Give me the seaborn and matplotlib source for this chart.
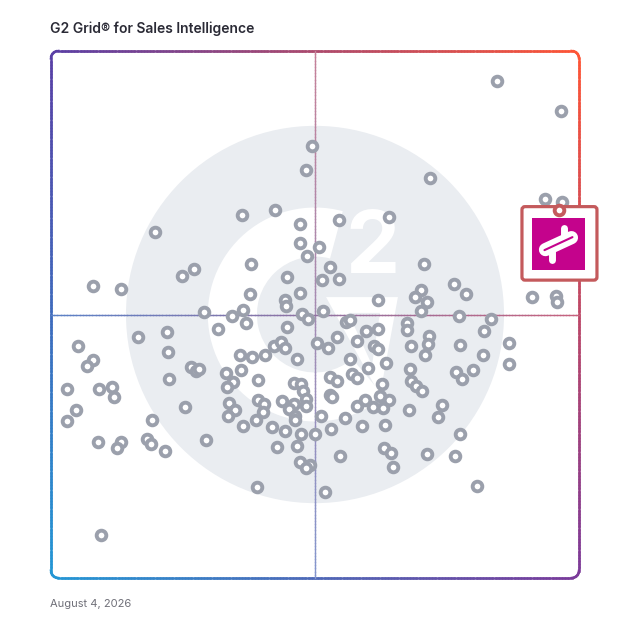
import numpy as np
import pandas as pd
import matplotlib
matplotlib.use("Agg")
import matplotlib.pyplot as plt
import seaborn as sns
from matplotlib.collections import LineCollection
from matplotlib.patches import Circle, Wedge, Polygon, FancyBboxPatch, Rectangle

# ---------------- data (0-100 scores) ----------------
satisfaction = [
    84.5, 96.6, 49.4, 48.3, 71.8, 93.6, 96.8, 19.7, 36.2, 42.4, 47.2, 54.5, 64.0, 47.2, 50.8, 48.5,
    70.6, 52.8, 37.9, 27.1, 24.8, 44.7, 51.3, 54.5, 76.3, 78.6, 70.1, 68.9, 71.2, 61.9, 8.0, 13.3,
    37.7, 47.2, 44.3, 44.5, 29.0, 36.4, 34.3, 47.5, 48.7, 36.9, 51.5, 70.1, 77.3, 55.9, 56.6, 67.4,
    67.4, 83.3, 82.0, 91.1, 95.6, 95.8, 31.6, 44.7, 59.7, 61.9, 5.1, 16.5, 22.0, 22.2, 50.4, 52.5,
    54.2, 58.0, 61.2, 61.9, 68.2, 71.6, 71.4, 70.8, 77.5, 81.8, 86.7, 86.7, 8.0, 6.8, 26.5, 27.5,
    28.0, 35.8, 38.1, 40.5, 42.2, 43.6, 44.3, 46.6, 33.1, 36.0, 22.3, 3.0, 9.1, 11.6, 11.9, 34.5,
    33.3, 39.2, 46.0, 47.4, 47.7, 48.3, 48.3, 46.0, 43.8, 45.1, 46.2, 46.2, 39.2, 40.3, 40.2, 33.7,
    34.8, 33.5, 25.4, 4.7, 3.0, 19.1, 38.8, 36.4, 41.9, 44.3, 47.4, 50.0, 51.1, 8.9, 13.3, 12.5,
    18.2, 18.9, 21.6, 29.4, 42.8, 46.6, 47.2, 49.1, 48.3, 39.0, 51.9, 9.5, 56.6, 63.4, 60.0, 68.0,
    76.7, 77.8, 79.9, 52.8, 54.2, 57.0, 58.0, 62.7, 68.2, 69.1, 70.3, 52.8, 53.2, 62.3, 64.0, 59.5,
    58.0, 61.0, 62.9, 67.8, 74.1, 73.3, 55.7, 53.0, 58.9, 63.3, 77.5, 54.7, 63.1, 64.4, 64.8, 71.2,
    76.5, 80.7,
]
market_presence = [
    94.3, 88.6, 82.0, 77.4, 75.9, 71.9, 71.4, 65.7, 68.9, 69.8, 67.2, 67.9, 68.5, 63.6, 62.8, 61.1,
    59.6, 59.0, 59.6, 58.6, 57.3, 57.1, 56.6, 56.8, 55.8, 53.9, 54.7, 53.3, 52.4, 52.8, 55.4, 54.9,
    53.9, 54.1, 52.8, 51.6, 50.5, 50.9, 49.7, 50.1, 49.2, 48.4, 50.7, 50.7, 49.7, 48.6, 49.0, 48.4,
    47.1, 49.2, 46.9, 53.3, 53.5, 52.4, 47.3, 47.6, 46.9, 47.3, 44.0, 45.7, 46.7, 42.9, 44.6, 43.7,
    45.7, 45.0, 44.0, 43.5, 44.0, 45.9, 44.4, 42.3, 44.2, 42.3, 44.6, 40.6, 41.4, 40.2, 40.0, 39.3,
    39.7, 42.3, 41.9, 42.3, 44.0, 44.8, 43.7, 41.6, 38.9, 39.5, 37.8, 35.9, 35.9, 36.3, 34.4, 37.2,
    36.3, 37.6, 37.0, 36.8, 35.5, 34.0, 32.6, 33.0, 33.6, 32.1, 30.7, 30.0, 33.8, 33.0, 31.5, 33.2,
    31.9, 30.7, 32.5, 31.9, 29.8, 30.0, 30.0, 28.8, 28.7, 27.9, 27.3, 27.3, 30.7, 25.8, 25.8, 24.7,
    26.4, 25.4, 24.1, 26.2, 24.9, 25.1, 22.0, 21.4, 20.9, 17.3, 16.3, 8.2, 41.6, 40.8, 39.9, 39.7,
    39.1, 37.8, 39.5, 38.1, 37.4, 38.7, 38.0, 36.8, 37.4, 36.4, 35.5, 34.7, 34.4, 34.5, 33.8, 33.8,
    32.6, 32.5, 32.3, 31.9, 32.8, 30.6, 30.4, 28.3, 28.8, 29.0, 27.3, 23.2, 24.7, 23.7, 21.1, 23.5,
    23.2, 17.5,
]
vendor_satisfaction = [96.3]
vendor_presence = [69.9]

title = "G2 Grid® for Sales Intelligence"
date_label = "August 4, 2026"

# ---------------- figure ----------------
sns.set_style("white")
plt.rcParams["font.family"] = ["Inter", "DejaVu Sans"]

W = H = 628
fig = plt.figure(figsize=(W / 100, H / 100), dpi=100)
ax = fig.add_axes([51 / W, 50 / H, 528 / W, 527 / H])
ax.set_xlim(0, 100)
ax.set_ylim(0, 100)
ax.axis("off")

GRAY_BG = "#EAEDF1"
# watermark (G2 logo shape)
ax.add_patch(Circle((50, 50), 35.8, color=GRAY_BG, lw=0, zorder=0))
ax.add_patch(Wedge((50, 50), 20.3, 75, 310, width=9.3, color="white", lw=0, zorder=1))
ax.add_patch(Polygon([(52.1, 53.3), (65.7, 53.3), (62.3, 34.7)], closed=True,
                     color="white", lw=0, zorder=1))
ax.add_patch(Polygon([(56.3, 50.3), (62.3, 50.3), (60.8, 40.4)], closed=True,
                     color=GRAY_BG, lw=0, zorder=1))
ax.text(60.8, 62.2, "2", ha="center", va="center", fontsize=62, fontweight="bold",
        color="white", zorder=1)

# gradient colours
TL = np.array([90, 63, 165]) / 255
TR = np.array([255, 85, 53]) / 255
BL = np.array([35, 151, 213]) / 255
BR = np.array([122, 58, 154]) / 255


def grad(u, v):
    return ((1 - u) * (1 - v))[:, None] * BL + (u * (1 - v))[:, None] * BR + \
           ((1 - u) * v)[:, None] * TL + (u * v)[:, None] * TR


def densify(pts, step=0.006):
    out = []
    for a, b in zip(pts[:-1], pts[1:]):
        n = max(1, int(np.hypot(*(b - a)) / step))
        t = np.linspace(0, 1, n, endpoint=False)[:, None]
        out.append(a + (b - a) * t)
    out.append(pts[-1:])
    return np.vstack(out)


def grad_line(pts, lw, fade=0.0, z=2):
    pts = densify(np.asarray(pts, float))
    segs = np.stack([pts[:-1], pts[1:]], axis=1)
    mid = segs.mean(axis=1)
    cols = np.clip(grad(mid[:, 0], mid[:, 1]), 0, 1)
    cols = cols * (1 - fade) + fade  # pre-blend towards white
    lc = LineCollection(segs, colors=cols, linewidths=lw, transform=ax.transAxes,
                        clip_on=False, zorder=z, capstyle="projecting", joinstyle="round")
    ax.add_collection(lc)


# rounded frame
r = 0.014
arcs = []
for (cx, cy), (a0, a1) in [((r, r), (180, 270)), ((1 - r, r), (270, 360)),
                           ((1 - r, 1 - r), (0, 90)), ((r, 1 - r), (90, 180))]:
    th = np.radians(np.linspace(a0, a1, 6))
    arcs.append(np.column_stack([cx + r * np.cos(th), cy + r * np.sin(th)]))
frame = np.vstack(arcs + [arcs[0][:1]])
grad_line(frame, 1.8)

# quadrant lines
grad_line([(0.5, 0.0), (0.5, 1.0)], 1.0, fade=0.3)
grad_line([(0.0, 0.5), (1.0, 0.5)], 1.0, fade=0.15)

# products
df = pd.DataFrame({"Satisfaction": satisfaction, "Market Presence": market_presence})
sns.scatterplot(data=df, x="Satisfaction", y="Market Presence", ax=ax, s=48,
                marker="o", facecolor="white", edgecolor="#9BA0AC", linewidth=2.8,
                zorder=3, legend=False, clip_on=False)
ax.set_xlim(0, 100)
ax.set_ylim(0, 100)
ax.axis("off")

# highlighted vendor with logo card
fig.canvas.draw()
vx, vy = ax.transData.transform((vendor_satisfaction[0], vendor_presence[0]))
edge = "#C45A5C"
MAG = "#C4038C"
fig.patches.append(FancyBboxPatch((vx - 35.5, vy - 68.5), 71, 69.5,
                                  boxstyle="round,pad=2,rounding_size=3",
                                  transform=None, facecolor="white", edgecolor=edge,
                                  linewidth=2.3, zorder=5, figure=fig))
fig.patches.append(Rectangle((vx - 27, vy - 60), 52.7, 51.8, transform=None,
                             facecolor=MAG, edgecolor="none", zorder=6, figure=fig))
cx, cy = vx - 1, vy - 34
fig.lines.append(plt.Line2D([cx - 13, cx + 13], [cy - 6, cy + 6], transform=None,
                            color="white", lw=9.5, solid_capstyle="round", zorder=7, figure=fig))
fig.lines.append(plt.Line2D([cx + 6, cx + 6], [cy + 4, cy + 16], transform=None,
                            color="white", lw=5, solid_capstyle="round", zorder=7, figure=fig))
fig.lines.append(plt.Line2D([cx - 6, cx - 6], [cy - 4, cy - 16], transform=None,
                            color="white", lw=5, solid_capstyle="round", zorder=7, figure=fig))
fig.lines.append(plt.Line2D([cx - 14, cx + 14], [cy - 6.5, cy + 6.5], transform=None,
                            color=MAG, lw=1.5, zorder=8, figure=fig))

# vendor marker on its own overlay axes, above the card
vend = fig.add_axes(ax.get_position(), label="vendor")
vend.set_zorder(20)
vend.set_xlim(0, 100)
vend.set_ylim(0, 100)
vend.axis("off")
vend.patch.set_alpha(0)
vend.scatter(vendor_satisfaction, vendor_presence, s=48, facecolor="white",
             edgecolor=edge, linewidth=2.8, zorder=10, clip_on=False)

# texts
fig.text(50 / W, 1 - 29 / H, title, ha="left", va="center", fontsize=10,
         fontweight="semibold", color="#2B2B36")
fig.text(50 / W, 1 - 604 / H, date_label, ha="left", va="center", fontsize=8,
         color="#6F6F78")

fig.savefig("out.png", dpi=100)
